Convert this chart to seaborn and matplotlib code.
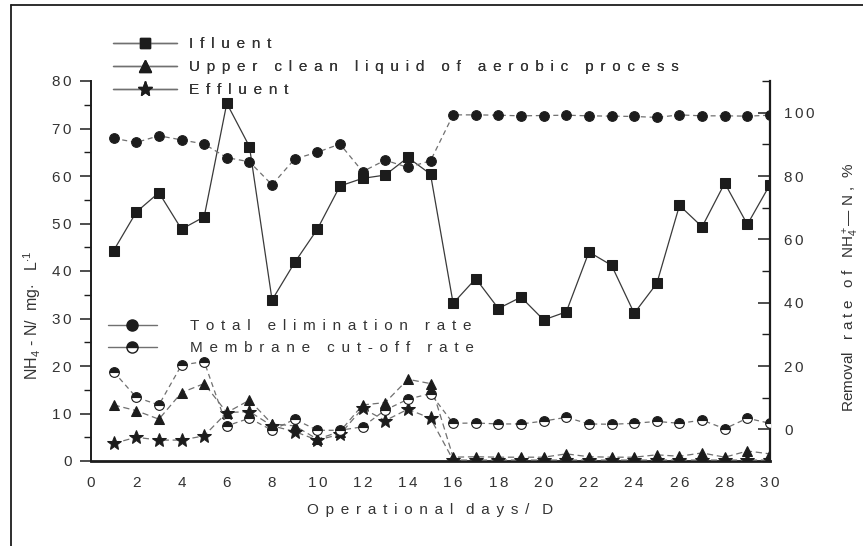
import matplotlib
matplotlib.use("Agg")
import matplotlib.pyplot as plt
import seaborn as sns
from matplotlib.lines import Line2D
from matplotlib.ticker import MultipleLocator

# operational days
days = list(range(1, 31))

# NH4-N concentrations, mg/L (left axis)
influent = [44.3, 52.4, 56.5, 48.8, 51.4, 75.3, 66.2, 33.9, 41.8, 48.8,
            57.9, 59.5, 60.2, 63.9, 60.4, 33.2, 38.4, 32.1, 34.5, 29.7,
            31.4, 44.0, 41.2, 31.1, 37.4, 53.8, 49.3, 58.5, 49.8, 58.2]
upper_clean = [11.8, 10.6, 8.8, 14.4, 16.3, 10.2, 12.8, 7.8, 7.4, 4.6,
               6.2, 11.8, 12.3, 17.2, 16.3, 0.8, 0.9, 0.8, 0.8, 0.8,
               1.5, 0.9, 0.8, 0.8, 1.3, 1.0, 1.7, 0.8, 2.1, 1.5]
effluent = [3.7, 5.0, 4.4, 4.4, 5.3, 10.2, 10.4, 7.4, 6.2, 4.4,
            5.6, 11.1, 8.5, 10.9, 9.0, 0.2, 0.2, 0.2, 0.2, 0.2,
            0.2, 0.2, 0.2, 0.2, 0.2, 0.2, 0.2, 0.2, 0.2, 0.2]

# removal rates, % (right axis)
total_elim = [91.9, 90.6, 92.7, 91.4, 90.1, 85.8, 84.5, 77.2, 85.4, 87.5,
              90.1, 81.4, 85.0, 82.7, 84.8, 99.3, 99.3, 99.2, 99.0, 99.1,
              99.2, 99.0, 98.9, 98.8, 98.5, 99.3, 99.0, 99.0, 98.9, 99.2]
membrane_cut = [18.2, 10.1, 7.7, 20.3, 21.4, 1.1, 3.5, -0.3, 3.2, -0.3,
                -0.3, 0.8, 6.1, 9.5, 11.3, 1.9, 2.0, 1.7, 1.7, 2.6,
                3.8, 1.7, 1.6, 1.9, 2.5, 1.9, 2.9, 0.2, 3.5, 1.9]

x_ticks = list(range(0, 31, 2))
left_ticks = list(range(0, 81, 10))
right_ticks = list(range(0, 101, 20))

DARK = "#1c1c1c"
LINE = "#3a3a3a"
DASH = "#707070"
TXT = "#333333"

GAP = " \u2006"   # loose letter spacing like the scanned original
THIN = "\u2006"


def spaced(s, gap=GAP, word="    "):
    return word.join(gap.join(w) for w in s.split())


sns.set_style("white")
plt.rcParams['font.family'] = ['Liberation Sans', 'DejaVu Sans']
plt.rcParams['mathtext.fontset'] = 'custom'
plt.rcParams['mathtext.rm'] = 'Liberation Sans'
plt.rcParams['mathtext.it'] = 'Liberation Sans'

fig = plt.figure(figsize=(8.63, 5.46), dpi=100)
ax = fig.add_axes([91 / 863, 1 - 461 / 546, 679 / 863, 380 / 546])
ax2 = ax.twinx()

sns.lineplot(x=days, y=influent, ax=ax, color=LINE, linewidth=0.9,
             marker='s', markersize=6.5, markerfacecolor=DARK,
             markeredgecolor=DARK, zorder=3)
sns.lineplot(x=days, y=upper_clean, ax=ax, color=DASH, linewidth=0.9,
             linestyle=(0, (5, 3)), marker='^', markersize=7.5,
             markerfacecolor=DARK, markeredgecolor=DARK, zorder=3)
sns.lineplot(x=days, y=effluent, ax=ax, color=DASH, linewidth=0.9,
             linestyle=(0, (5, 3)), marker='*', markersize=10,
             markerfacecolor=DARK, markeredgecolor=DARK, zorder=3)

sns.lineplot(x=days, y=total_elim, ax=ax2, color=DASH, linewidth=0.9,
             linestyle=(0, (4, 3)), marker='o', markersize=7,
             markerfacecolor=DARK, markeredgecolor=DARK, zorder=3)
sns.lineplot(x=days, y=membrane_cut, ax=ax2, color=DASH, linewidth=0.9,
             linestyle=(0, (4, 3)), marker='o', markersize=7,
             fillstyle='top', markerfacecolor=DARK, markerfacecoloralt='white',
             markeredgecolor=DARK, markeredgewidth=0.8, zorder=3)

ax.set_xlim(0, 30)
ax.set_ylim(0, 80)
ax2.set_ylim(-10, 110)

ax.set_xticks(x_ticks)
ax.set_xticklabels([THIN.join(str(t)) for t in x_ticks])
ax.xaxis.set_minor_locator(MultipleLocator(1))
ax.set_yticks(left_ticks)
ax.set_yticklabels([THIN.join(str(t)) for t in left_ticks])
ax.yaxis.set_minor_locator(MultipleLocator(5))
ax2.set_yticks(right_ticks)
ax2.set_yticklabels([THIN.join(str(t)) for t in right_ticks])
ax2.yaxis.set_minor_locator(MultipleLocator(10))

for a in (ax, ax2):
    a.set_xlabel("")
    a.set_ylabel("")
    a.spines['top'].set_visible(False)
    for sp in a.spines.values():
        sp.set_color(DARK)
ax.spines['left'].set_linewidth(1.4)
ax.spines['bottom'].set_linewidth(2.0)
ax2.spines['right'].set_linewidth(1.6)
ax2.spines['left'].set_visible(False)
ax2.spines['bottom'].set_visible(False)
ax.spines['right'].set_visible(False)

ax.tick_params(axis='x', which='major', direction='out', length=7, width=1.3,
               colors=DARK, labelcolor=TXT, labelsize=11, pad=4)
ax.tick_params(axis='x', which='minor', direction='out', length=4, width=1.0, colors=DARK)
ax.tick_params(axis='y', which='major', direction='out', length=8, width=1.1,
               colors=DARK, labelcolor=TXT, labelsize=11, pad=6)
ax.tick_params(axis='y', which='minor', direction='out', length=5, width=1.0, colors=DARK)
ax2.tick_params(axis='y', which='major', direction='in', length=9, width=1.1,
                colors=DARK, labelcolor=TXT, labelsize=11, pad=10)
ax2.tick_params(axis='y', which='minor', direction='in', length=6, width=1.0, colors=DARK)

# axis titles
fig.text(430 / 863, 1 - 510 / 546, spaced("Operational days/ D", word="   "),
         ha='center', va='center', fontsize=11, color=TXT)
fig.text(32 / 863, 1 - 316 / 546, r"NH$_4$ - N/  mg$\cdot$   L$^{\cdot 1}$",
         rotation=90, ha='center', va='center', fontsize=11.5, color=TXT)
fig.text(851 / 863, 1 - 287 / 546,
         "Removal   " + spaced("rate of", " ", "   ") + r"   NH$_4^+$— N ,  %",
         rotation=90, ha='center', va='center', fontsize=11, color=TXT)

# legends
h_conc = [
    Line2D([], [], color=DASH, lw=1.0, marker='s', ms=7, mfc=DARK, mec=DARK),
    Line2D([], [], color=DASH, lw=1.0, marker='^', ms=8, mfc=DARK, mec=DARK),
    Line2D([], [], color=DASH, lw=1.0, marker='*', ms=11, mfc=DARK, mec=DARK),
]
lab_conc = [spaced("Ifluent"),
            spaced("Upper clean liquid of aerobic process"),
            spaced("Effluent")]
leg1 = ax.legend(h_conc, lab_conc, loc='upper left',
                 bbox_to_anchor=(113 / 863, 1 - 37 / 546), bbox_transform=fig.transFigure,
                 frameon=False, fontsize=11, handlelength=4.2, handletextpad=0.8,
                 labelspacing=0.6, borderpad=0, borderaxespad=0, labelcolor=TXT)
ax.add_artist(leg1)

h_rate = [
    Line2D([], [], color=DASH, lw=1.0, marker='o', ms=8, mfc=DARK, mec=DARK),
    Line2D([], [], color=DASH, lw=1.0, marker='o', ms=8, fillstyle='top',
           mfc=DARK, mfcalt='white', mec=DARK),
]
lab_rate = [spaced("Total elimination rate"),
            spaced("Membrane cut-off rate")]
leg2 = ax2.legend(h_rate, lab_rate, loc='upper left',
                  bbox_to_anchor=(108 / 863, 1 - 319 / 546), bbox_transform=fig.transFigure,
                  frameon=False, fontsize=11, handlelength=3.2, handletextpad=2.2,
                  labelspacing=0.55, borderpad=0, borderaxespad=0, labelcolor=TXT)

# scan frame
fig.add_artist(Line2D([11 / 863, 11 / 863], [0, 1 - 5 / 546], transform=fig.transFigure,
                      color=DARK, lw=1.3))
fig.add_artist(Line2D([11 / 863, 1], [1 - 5 / 546, 1 - 5 / 546], transform=fig.transFigure,
                      color=DARK, lw=1.3))

fig.savefig("out.png", dpi=100)
